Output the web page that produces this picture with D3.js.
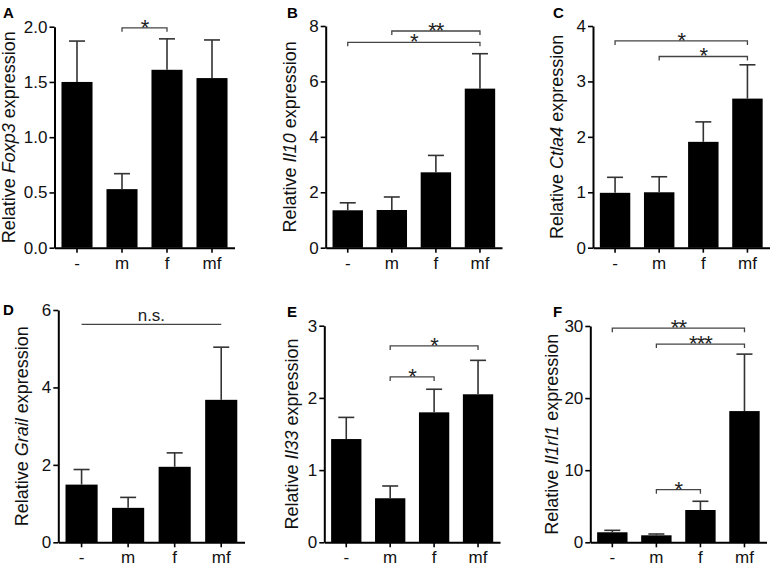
<!DOCTYPE html>
<html>
<head>
<meta charset="utf-8">
<script src="https://cdn.jsdelivr.net/npm/d3@7"></script>
<style>
  html, body { margin: 0; padding: 0; background: #fff; }
  svg { display: block; font-family: "Liberation Sans", Arial, sans-serif; }
</style>
</head>
<body>
<svg id="chart" width="773" height="567"></svg>
<script>
// ---------------- DATA ----------------
const categories = ["-", "m", "f", "mf"];

const foxp3Mean = [1.50, 0.53, 1.61, 1.535];
const foxp3Sem  = [0.37, 0.14, 0.28, 0.345];
const foxp3Ticks = [0, 0.5, 1.0, 1.5, 2.0];
const foxp3Sig = [{ from: 1, to: 2, level: 1.99, label: "*" }];

const il10Mean = [1.35, 1.36, 2.72, 5.74];
const il10Sem  = [0.27, 0.47, 0.61, 1.26];
const il10Ticks = [0, 2, 4, 6, 8];
const il10Sig = [
  { from: 1, to: 3, level: 7.82, label: "**" },
  { from: 0, to: 3, level: 7.41, label: "*" }
];

const ctla4Mean = [0.99, 1.00, 1.91, 2.69];
const ctla4Sem  = [0.28, 0.28, 0.36, 0.61];
const ctla4Ticks = [0, 1, 2, 3, 4];
const ctla4Sig = [
  { from: 0, to: 3, level: 3.73, label: "*" },
  { from: 1, to: 3, level: 3.45, label: "*" }
];

const grailMean = [1.49, 0.89, 1.95, 3.68];
const grailSem  = [0.39, 0.27, 0.36, 1.36];
const grailTicks = [0, 2, 4, 6];
const grailSig = [{ from: 0, to: 3, level: 5.63, label: "n.s.", flat: true }];

const il33Mean = [1.43, 0.61, 1.80, 2.05];
const il33Sem  = [0.30, 0.17, 0.32, 0.47];
const il33Ticks = [0, 1, 2, 3];
const il33Sig = [
  { from: 1, to: 3, level: 2.72, label: "*" },
  { from: 1, to: 2, level: 2.29, label: "*" }
];

const il1rl1Mean = [1.39, 0.97, 4.48, 18.2];
const il1rl1Sem  = [0.27, 0.18, 1.21, 7.9];
const il1rl1Ticks = [0, 10, 20, 30];
const il1rl1Sig = [
  { from: 0, to: 3, level: 29.7, label: "**" },
  { from: 1, to: 3, level: 27.5, label: "***" },
  { from: 1, to: 2, level: 7.3, label: "*" }
];

// ---------------- LAYOUT ----------------
const panels = [
  { letter: "A", gene: "Foxp3", mean: foxp3Mean, sem: foxp3Sem, ticks: foxp3Ticks, sig: foxp3Sig, fmt: d3.format(".1f"),
    x0: 54.5, x1: 234.5, yTop: 26.7, yBot: 247.7, lx: 3, ly: 18, labX: 15 },
  { letter: "B", gene: "Il10", mean: il10Mean, sem: il10Sem, ticks: il10Ticks, sig: il10Sig, fmt: d3.format("d"),
    x0: 325.7, x1: 502, yTop: 26, yBot: 247.7, lx: 287, ly: 18, labX: 296 },
  { letter: "C", gene: "Ctla4", mean: ctla4Mean, sem: ctla4Sem, ticks: ctla4Ticks, sig: ctla4Sig, fmt: d3.format("d"),
    x0: 593, x1: 769.5, yTop: 26, yBot: 247.7, lx: 553, ly: 18, labX: 563 },
  { letter: "D", gene: "Grail", mean: grailMean, sem: grailSem, ticks: grailTicks, sig: grailSig, fmt: d3.format("d"),
    x0: 58.3, x1: 244.5, yTop: 310, yBot: 542.3, lx: 3, ly: 315, labX: 28 },
  { letter: "E", gene: "Il33", mean: il33Mean, sem: il33Sem, ticks: il33Ticks, sig: il33Sig, fmt: d3.format("d"),
    x0: 324.3, x1: 500, yTop: 325.7, yBot: 542.3, lx: 287, ly: 317, labX: 298 },
  { letter: "F", gene: "Il1rl1", mean: il1rl1Mean, sem: il1rl1Sem, ticks: il1rl1Ticks, sig: il1rl1Sig, fmt: d3.format("d"),
    x0: 590.3, x1: 766.5, yTop: 326, yBot: 542.3, lx: 553, ly: 317, labX: 558 }
];

const svg = d3.select("#chart");

panels.forEach(p => {
  const g = svg.append("g");
  const yMax = p.ticks[p.ticks.length - 1];
  const y = d3.scaleLinear().domain([0, yMax]).range([p.yBot, p.yTop]);
  const x = d3.scaleBand().domain(categories).range([p.x0, p.x1])
    .paddingInner(0.31).paddingOuter(0.155);

  // bars
  g.selectAll("rect.bar").data(categories).join("rect")
    .attr("class", "bar")
    .attr("x", c => x(c))
    .attr("width", x.bandwidth())
    .attr("y", (c, i) => y(p.mean[i]))
    .attr("height", (c, i) => y(0) - y(p.mean[i]))
    .attr("fill", "#000");

  // error bars (upper only)
  const capW = 16;
  g.selectAll("line.err").data(categories).join("line")
    .attr("class", "err")
    .attr("x1", c => x(c) + x.bandwidth() / 2)
    .attr("x2", c => x(c) + x.bandwidth() / 2)
    .attr("y1", (c, i) => y(p.mean[i]))
    .attr("y2", (c, i) => y(p.mean[i] + p.sem[i]))
    .attr("stroke", "#333").attr("stroke-width", 1.6);
  g.selectAll("line.cap").data(categories).join("line")
    .attr("class", "cap")
    .attr("x1", c => x(c) + x.bandwidth() / 2 - capW / 2)
    .attr("x2", c => x(c) + x.bandwidth() / 2 + capW / 2)
    .attr("y1", (c, i) => y(p.mean[i] + p.sem[i]))
    .attr("y2", (c, i) => y(p.mean[i] + p.sem[i]))
    .attr("stroke", "#333").attr("stroke-width", 1.6);

  // y axis
  const yAxis = g.append("g").attr("transform", `translate(${p.x0},0)`)
    .call(d3.axisLeft(y).tickValues(p.ticks).tickFormat(p.fmt).tickSize(5).tickSizeOuter(0).tickPadding(2));
  yAxis.select(".domain").attr("stroke", "#000").attr("stroke-width", 2);
  yAxis.selectAll(".tick line").attr("stroke", "#000").attr("stroke-width", 1.6);
  yAxis.selectAll(".tick text").attr("font-size", 17).attr("fill", "#111")
    .attr("font-family", "Liberation Sans, Arial, sans-serif");

  // x axis
  const xAxis = g.append("g").attr("transform", `translate(0,${p.yBot})`)
    .call(d3.axisBottom(x).tickSize(5).tickSizeOuter(0).tickPadding(4));
  xAxis.select(".domain").attr("stroke", "#000").attr("stroke-width", 2);
  xAxis.selectAll(".tick line").attr("stroke", "#000").attr("stroke-width", 1.6);
  xAxis.selectAll(".tick text").attr("font-size", 17).attr("fill", "#111")
    .attr("font-family", "Liberation Sans, Arial, sans-serif");

  // y label
  const lab = g.append("text")
    .attr("transform", `translate(${p.labX},${(p.yTop + p.yBot) / 2}) rotate(-90)`)
    .attr("text-anchor", "middle")
    .attr("font-size", 18).attr("fill", "#111");
  lab.append("tspan").text("Relative ");
  lab.append("tspan").attr("font-style", "italic").text(p.gene);
  lab.append("tspan").text(" expression");

  // panel letter
  g.append("text").attr("x", p.lx).attr("y", p.ly)
    .attr("font-size", 15).attr("font-weight", "bold").attr("fill", "#000")
    .text(p.letter);

  // significance brackets
  p.sig.forEach(s => {
    const xa = x(categories[s.from]) + x.bandwidth() / 2;
    const xb = x(categories[s.to]) + x.bandwidth() / 2;
    const yl = y(s.level);
    const drop = s.flat ? 0 : 4;
    g.append("path")
      .attr("d", `M${xa},${yl + drop}V${yl}H${xb}V${yl + drop}`)
      .attr("fill", "none").attr("stroke", "#444").attr("stroke-width", 1.3);
    if (s.flat) {
      g.append("text").attr("x", (xa + xb) / 2).attr("y", yl - 3)
        .attr("text-anchor", "middle").attr("font-size", 17).attr("fill", "#222")
        .text(s.label);
    } else {
      g.append("text").attr("x", (xa + xb) / 2).attr("y", yl + 7)
        .attr("text-anchor", "middle").attr("font-size", 22).attr("fill", "#222")
        .attr("letter-spacing", -1)
        .text(s.label);
    }
  });
});
</script>
</body>
</html>
